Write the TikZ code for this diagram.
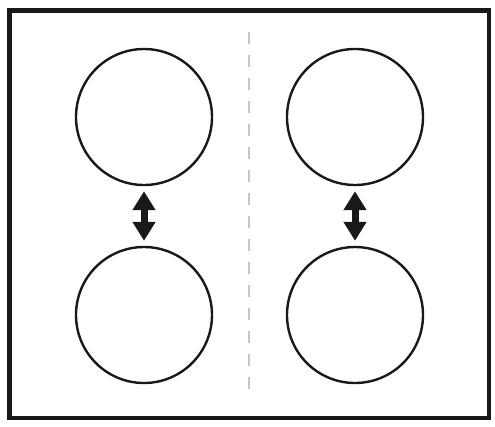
\documentclass[tikz,border=0pt]{standalone}
\usetikzlibrary{arrows.meta}
\begin{document}
\begin{tikzpicture}[x=1pt,y=-1pt,
  ball/.style={circle,draw=black!90,line width=2.4pt,minimum size=136pt,inner sep=0pt},
  gaparrow/.style={line width=7pt,black!90,shorten <=5pt,shorten >=5pt,
    {Triangle[width=22pt,length=19pt]}-{Triangle[width=22pt,length=19pt]}},
  divider/.style={gray!45,line width=1.3pt,dash pattern=on 12pt off 11pt},
  frame/.style={draw=black!90,line width=4.5pt}]
\useasboundingbox (0,0) rectangle (495,426);
\draw[frame] (9.5,10.5) rectangle (489,418);
\coordinate (dtop) at (249,32);
\coordinate (dbot) at (249,397);
\draw[divider] (dtop) -- (dbot);
\node[ball] (lt) at (144,117) {};
\node[ball] (lb) at (144,315) {};
\node[ball] (rt) at (355,117) {};
\node[ball] (rb) at (355,315) {};
\draw[gaparrow] (lt.south) -- (lb.north);
\draw[gaparrow] (rt.south) -- (rb.north);
\end{tikzpicture}
\end{document}
